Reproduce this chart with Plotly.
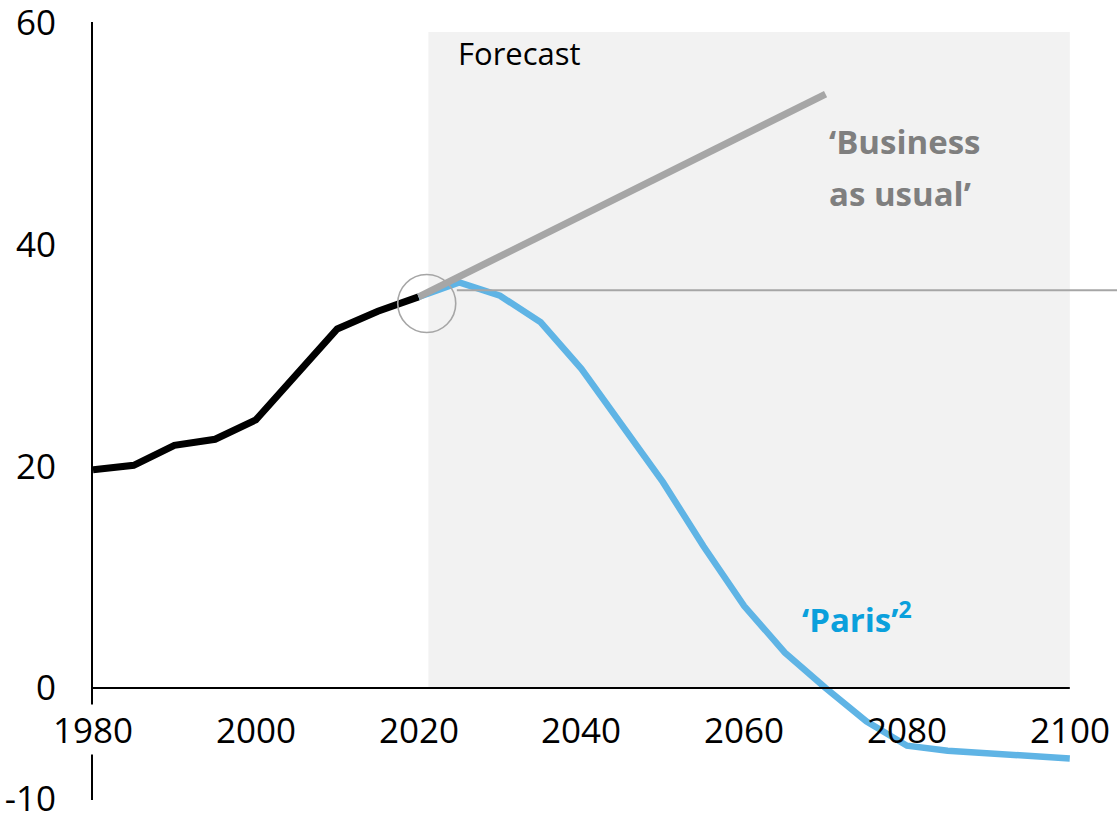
import plotly.graph_objects as go

# Historical emissions and two forecast pathways
hist_years = [1980, 1985, 1990, 1995, 2000, 2005, 2010, 2015, 2020]
hist_values = [19.7, 20.1, 21.9, 22.45, 24.2, 28.3, 32.4, 34.0, 35.3]

bau_years = [2020, 2070]
bau_values = [35.3, 53.6]

paris_years = [2020, 2025, 2030, 2035, 2040, 2045, 2050, 2055, 2060,
               2065, 2070, 2075, 2080, 2085, 2090, 2095, 2100]
paris_values = [35.3, 36.6, 35.4, 33.0, 28.8, 23.7, 18.6, 12.8, 7.4,
                3.2, 0.0, -3.0, -5.2, -5.65, -5.9, -6.1, -6.35]

# Reference level of today's emissions, carried to the right edge
level_years = [2024.7, 2110]
level_values = [35.9, 35.9]

# Highlight ring at the start of the forecast
ring_year = [2021]
ring_value = [34.7]

forecast_start, forecast_end, forecast_top = 2021.2, 2100, 59.2

x_tick_years = [1980, 2000, 2020, 2040, 2060, 2080, 2100]
y_tick_values = [60, 40, 20, 0, -10]

FONT = "Open Sans"
BLACK = "#000000"
GREY_LINE = "#a6a6a6"
GREY_TEXT = "#7f7f7f"
BLUE_LINE = "#5fb4e5"
BLUE_TEXT = "#0aa0dc"

fig = go.Figure()

fig.add_trace(go.Scatter(x=hist_years, y=hist_values, mode="lines",
                         line=dict(color=BLACK, width=7), hoverinfo="skip"))
fig.add_trace(go.Scatter(x=paris_years, y=paris_values, mode="lines",
                         line=dict(color=BLUE_LINE, width=6.5), hoverinfo="skip"))
fig.add_trace(go.Scatter(x=bau_years, y=bau_values, mode="lines",
                         line=dict(color=GREY_LINE, width=7), hoverinfo="skip"))
fig.add_trace(go.Scatter(x=level_years, y=level_values, mode="lines",
                         line=dict(color=GREY_LINE, width=2), hoverinfo="skip"))
fig.add_trace(go.Scatter(x=ring_year, y=ring_value, mode="markers",
                         marker=dict(symbol="circle-open", size=58,
                                     line=dict(color=GREY_LINE, width=1.6),
                                     color=GREY_LINE),
                         hoverinfo="skip", cliponaxis=False))

# Forecast background panel
fig.add_shape(type="rect", xref="x", yref="y",
              x0=forecast_start, x1=forecast_end, y0=0, y1=forecast_top,
              fillcolor="#f2f2f2", line=dict(width=0), layer="below")
# Horizontal axis line at zero
fig.add_shape(type="line", xref="x", yref="y",
              x0=x_tick_years[0], x1=x_tick_years[-1], y0=0, y1=0,
              line=dict(color=BLACK, width=2), layer="above")

# Year labels sitting under the zero line
for yr in x_tick_years:
    fig.add_annotation(x=yr, y=0, xref="x", yref="y", text=str(yr),
                       showarrow=False, xanchor="center", yanchor="top",
                       yshift=-16, font=dict(family=FONT, size=35, color=BLACK),
                       bgcolor="white" if yr == x_tick_years[0] else None)

fig.add_annotation(x=2024.6, y=57.3, text="Forecast", showarrow=False,
                   xanchor="left", yanchor="middle",
                   font=dict(family=FONT, size=31, color=BLACK))
fig.add_annotation(x=2070.2, y=49.35, text="<b>‘Business</b>", showarrow=False,
                   xanchor="left", yanchor="middle",
                   font=dict(family=FONT, size=33, color=GREY_TEXT))
fig.add_annotation(x=2070.2, y=44.65, text="<b>as usual’</b>", showarrow=False,
                   xanchor="left", yanchor="middle",
                   font=dict(family=FONT, size=33, color=GREY_TEXT))
fig.add_annotation(x=2066.8, y=6.4, text="<b>‘Paris’<sup>2</sup></b>", showarrow=False,
                   xanchor="left", yanchor="middle",
                   font=dict(family=FONT, size=33, color=BLUE_TEXT))

fig.update_layout(
    width=1117, height=816,
    margin=dict(l=93, r=0, t=22, b=16, autoexpand=False),
    paper_bgcolor="white", plot_bgcolor="white",
    showlegend=False,
    xaxis=dict(range=[1980, 2105.8], visible=False, fixedrange=True),
    yaxis=dict(range=[-10.1, 60.1], tickvals=y_tick_values,
               ticktext=[str(v) for v in y_tick_values],
               showgrid=False, zeroline=False, showline=True,
               linecolor=BLACK, linewidth=2, ticks="",
               ticklabelstandoff=28, ticklabeloverflow="allow",
               automargin=False,
               tickfont=dict(family=FONT, size=35, color=BLACK),
               fixedrange=True),
)

fig.write_html("out.html")
